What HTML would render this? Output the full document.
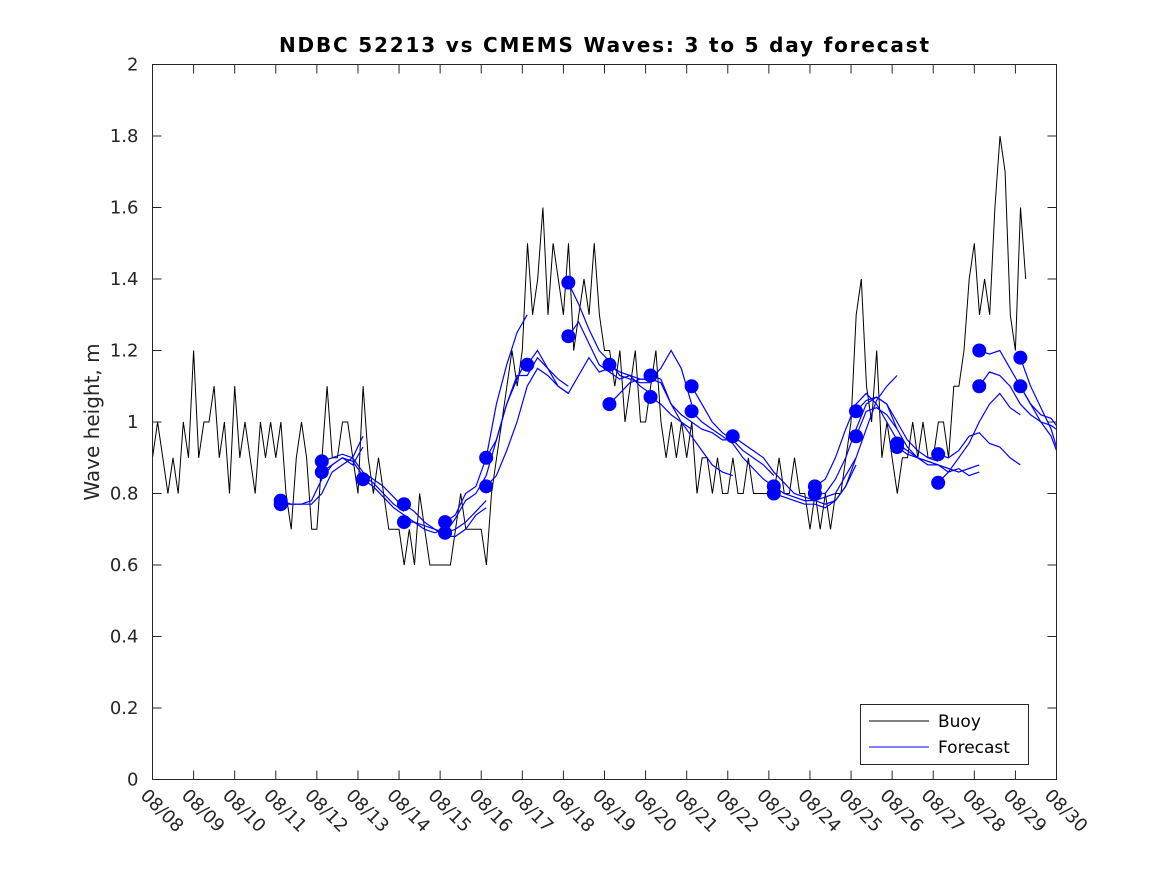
<!DOCTYPE html>
<html><head><meta charset="utf-8"><style>
html,body{margin:0;padding:0;background:#fff}
svg{display:block;font-family:"Liberation Sans",sans-serif}
</style></head><body>
<svg id="chart" width="1167" height="875" viewBox="0 0 1167 875">
<rect width="1167" height="875" fill="#fff"/>
<text x="604" y="52" text-anchor="middle" font-size="20" font-weight="bold" fill="#000" font-family="DejaVu Sans, sans-serif" textLength="650">NDBC 52213 vs CMEMS Waves: 3 to 5 day forecast</text>
<text transform="translate(99,422) rotate(-90)" text-anchor="middle" font-size="20" fill="#262626" font-family="DejaVu Sans, sans-serif">Wave height, m</text>
<g id="axes"></g>
<g id="series"></g>
<rect x="152.5" y="64.5" width="904" height="715" fill="none" stroke="#262626" stroke-width="1"/>
<g>
<rect x="860.5" y="704.5" width="168" height="60" fill="#fff" stroke="#262626"/>
<line x1="869" y1="721" x2="929" y2="721" stroke="#000"/>
<text x="938" y="727" font-size="17" fill="#000" font-family="DejaVu Sans, sans-serif">Buoy</text>
<line x1="869" y1="747" x2="929" y2="747" stroke="#0000ff"/>
<text x="938" y="753" font-size="17" fill="#000" font-family="DejaVu Sans, sans-serif">Forecast</text>
</g>
</svg>
<script>
const xTickLabels=["08/08","08/09","08/10","08/11","08/12","08/13","08/14","08/15","08/16","08/17","08/18","08/19","08/20","08/21","08/22","08/23","08/24","08/25","08/26","08/27","08/28","08/29","08/30"];
const yTickValues=[0,0.2,0.4,0.6,0.8,1,1.2,1.4,1.6,1.8,2];
const yTickLabels=["0","0.2","0.4","0.6","0.8","1","1.2","1.4","1.6","1.8","2"];
const buoyStepDays=0.125;
const buoyValues=[
0.9,1.0,0.9,0.8,0.9,0.8,1.0,0.9,
1.2,0.9,1.0,1.0,1.1,0.9,1.0,0.8,
1.1,0.9,1.0,0.9,0.8,1.0,0.9,1.0,
0.9,1.0,0.8,0.7,0.9,1.0,0.9,0.7,
0.7,0.9,1.1,0.9,0.9,1.0,1.0,0.9,
0.8,1.1,0.9,0.8,0.9,0.8,0.7,0.7,
0.7,0.6,0.7,0.6,0.8,0.7,0.6,0.6,
0.6,0.6,0.6,0.7,0.8,0.7,0.7,0.7,
0.7,0.6,0.8,0.9,1.0,1.1,1.2,1.1,
1.2,1.5,1.3,1.4,1.6,1.3,1.5,1.4,
1.3,1.5,1.2,1.3,1.4,1.3,1.5,1.3,
1.2,1.2,1.1,1.2,1.0,1.1,1.2,1.0,
1.0,1.1,1.2,1.0,0.9,1.0,0.9,1.0,
0.9,1.0,0.8,0.9,0.9,0.8,0.9,0.8,
0.8,0.9,0.8,0.8,0.9,0.8,0.8,0.8,
0.8,0.8,0.9,0.8,0.8,0.9,0.8,0.8,
0.7,0.8,0.7,0.8,0.7,0.8,0.8,0.9,
1.0,1.3,1.4,1.1,1.0,1.2,0.9,1.0,
0.9,0.8,0.9,0.9,1.0,0.9,1.0,0.9,
0.9,1.0,1.0,0.9,1.1,1.1,1.2,
1.4,1.5,1.3,1.4,1.3,1.6,1.8,1.7,
1.3,1.2,1.6,1.4];
const forecastStarts=[3.12,3.12,4.12,4.12,5.12,6.12,6.12,7.12,7.12,8.12,8.12,9.12,10.12,10.12,11.12,11.12,12.12,12.12,13.12,13.12,14.12,15.12,15.12,16.12,16.12,16.12,17.12,17.12,18.12,18.12,19.12,19.12,20.12,20.12,21.12,21.12];
const forecastHasDot=[1,1,1,1,1,1,1,1,1,1,1,1,1,1,1,1,1,1,1,1,1,1,1,1,1,0,1,1,1,1,1,1,1,1,1,1];
const forecastStepDays=0.25;
const forecastValues=[
[0.78,0.77,0.77,0.77,0.80,0.86,0.88,0.90,0.96],
[0.77,0.77,0.77,0.78,0.84,0.88,0.90,0.88,0.93],
[0.89,0.90,0.91,0.90,0.86,0.84,0.82,0.79,0.76],
[0.86,0.88,0.90,0.89,0.85,0.83,0.80,0.77,0.75],
[0.84,0.82,0.79,0.76,0.74,0.72,0.70,0.69,0.70],
[0.77,0.75,0.72,0.70,0.68,0.68,0.70,0.74,0.76],
[0.72,0.72,0.71,0.70,0.69,0.70,0.72,0.75,0.78],
[0.72,0.74,0.80,0.82,0.90,1.05,1.16,1.25,1.30],
[0.69,0.73,0.78,0.80,0.85,0.95,1.05,1.12,1.18],
[0.90,0.95,1.05,1.13,1.13,1.18,1.15,1.12,1.10],
[0.82,0.85,0.92,1.00,1.10,1.15,1.13,1.10,1.08],
[1.16,1.20,1.15,1.10,1.08,1.13,1.18,1.14,1.15],
[1.39,1.33,1.26,1.20,1.17,1.13,1.12,1.11,1.11],
[1.24,1.28,1.22,1.16,1.14,1.12,1.13,1.10,1.08],
[1.16,1.14,1.13,1.12,1.12,1.15,1.20,1.15,1.05],
[1.05,1.08,1.11,1.12,1.12,1.11,1.05,1.00,0.98],
[1.13,1.12,1.05,1.02,1.00,0.98,0.97,0.95,0.95],
[1.07,1.05,1.02,1.00,0.96,0.92,0.88,0.86,0.85],
[1.10,1.05,1.00,0.97,0.95,0.92,0.90,0.88,0.85],
[1.03,1.00,0.98,0.96,0.94,0.90,0.87,0.84,0.82],
[0.96,0.94,0.92,0.90,0.86,0.83,0.80,0.79,0.78],
[0.82,0.80,0.79,0.78,0.78,0.79,0.80,0.85,0.90],
[0.80,0.79,0.78,0.77,0.77,0.76,0.78,0.82,0.88],
[0.82,0.84,0.90,0.98,1.05,1.08,1.05,1.00,0.95],
[0.80,0.80,0.84,0.90,0.98,1.05,1.07,1.05,0.98],
[0.78,0.77,0.78,0.82,0.90,0.98,1.06,1.10,1.13],
[1.03,1.06,1.07,1.05,1.00,0.95,0.92,0.90,0.89],
[0.96,1.03,1.04,1.02,0.98,0.93,0.90,0.89,0.88],
[0.94,0.92,0.90,0.89,0.88,0.87,0.86,0.87,0.88],
[0.93,0.91,0.90,0.88,0.88,0.86,0.87,0.85,0.86],
[0.91,0.90,0.92,0.96,0.97,0.94,0.93,0.90,0.88],
[0.83,0.86,0.90,0.94,1.00,1.05,1.08,1.04,1.02],
[1.20,1.19,1.20,1.15,1.10,1.05,1.02,1.01,0.99],
[1.10,1.14,1.13,1.10,1.05,1.02,1.00,0.99,0.98],
[1.18,1.10,1.04,0.98,0.93],
[1.10,1.05,1.00,0.96,0.92]];

const X0=152.5,X1=1056.5,Y0=779.5,Y1=64.5,DAYS=22,YMAX=2;
function xs(d){return X0+(X1-X0)*d/DAYS;}
function ys(v){return Y0-(Y0-Y1)*v/YMAX;}
const NS="http://www.w3.org/2000/svg";
const axes=document.getElementById('axes'),ser=document.getElementById('series');
function mk(tag,attrs,parent){const e=document.createElementNS(NS,tag);for(const k in attrs)e.setAttribute(k,attrs[k]);parent.appendChild(e);return e;}
xTickLabels.forEach((lab,i)=>{
  const x=xs(i);
  const t1=mk('line',{x1:x,y1:Y0,x2:x,y2:Y0-9,stroke:'#262626'},axes);
  
  
  const t2=mk('line',{x1:x,y1:Y1,x2:x,y2:Y1+9,stroke:'#262626'},axes);
  
  
  const t=mk('text',{transform:`translate(${x-13},${Y0+17}) rotate(45)`,'font-size':'18','font-family':'DejaVu Sans, sans-serif',fill:'#262626'},axes);
  t.textContent=lab;
  
  
});
yTickValues.forEach((v,i)=>{
  const y=ys(v);
  const a=mk('line',{x1:X0,y1:y,x2:X0+9,y2:y,stroke:'#262626'},axes);
  
  
  const b=mk('line',{x1:X1,y1:y,x2:X1-9,y2:y,stroke:'#262626'},axes);
  
  
  const t=mk('text',{x:X0-14,y:y+6,'text-anchor':'end','font-size':'18','font-family':'DejaVu Sans, sans-serif',fill:'#262626'},axes);
  t.textContent=yTickLabels[i];
  
  
});
const bp=buoyValues.map((v,i)=>xs(i*buoyStepDays).toFixed(1)+','+ys(v).toFixed(1)).join(' ');
const buoy=mk('polyline',{points:bp,fill:'none',stroke:'#000','stroke-width':'1'},ser);


forecastValues.forEach((vals,r)=>{
  const s=forecastStarts[r];
  const pts=vals.map((v,i)=>{const d=Math.min(s+i*forecastStepDays,DAYS);return xs(d).toFixed(1)+','+ys(v).toFixed(1);}).join(' ');
  const pl=mk('polyline',{points:pts,fill:'none',stroke:'#0000ff','stroke-width':'1.2'},ser);
  
  
});
forecastValues.forEach((vals,r)=>{
  if(!forecastHasDot[r])return;
  const c=mk('circle',{cx:xs(forecastStarts[r]),cy:ys(vals[0]),r:7,fill:'#0000ff'},ser);
  
  
});
</script>
</body></html>
